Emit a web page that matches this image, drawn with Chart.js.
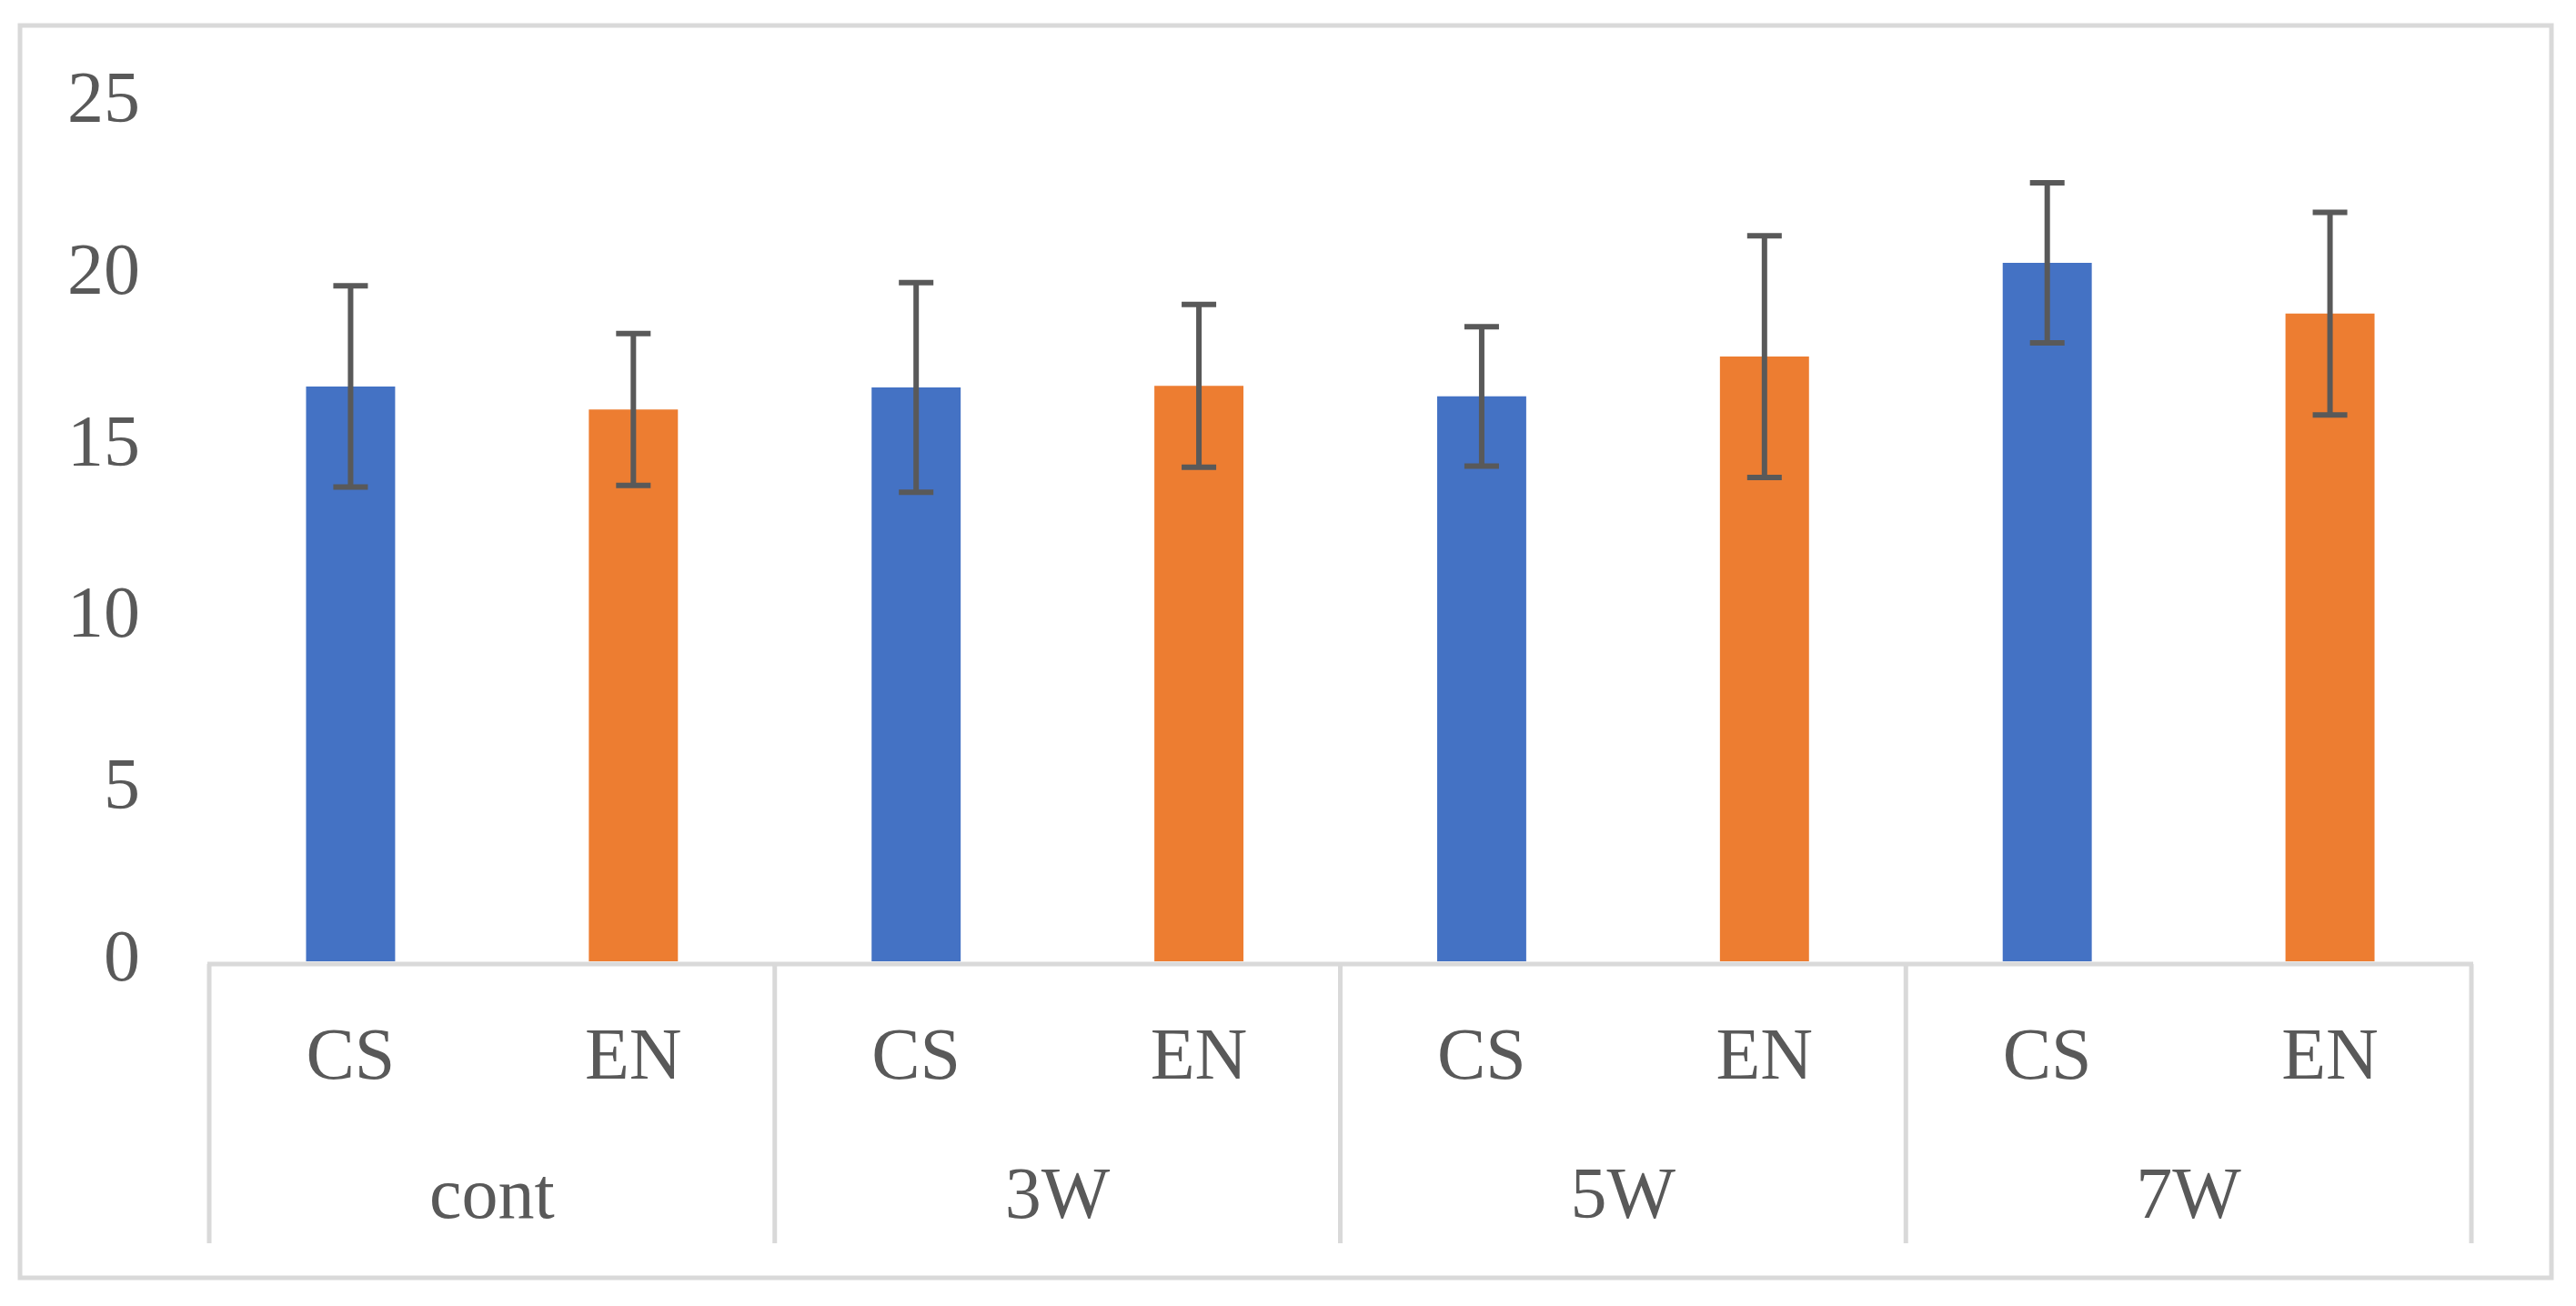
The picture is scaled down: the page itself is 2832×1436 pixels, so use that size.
<!DOCTYPE html>
<html>
<head>
<meta charset="utf-8">
<script src="https://cdn.jsdelivr.net/npm/chart.js@4/dist/chart.umd.min.js"></script>
<style>
  html, body { margin: 0; padding: 0; background: #fff; overflow: hidden; }
  canvas { display: block; }
</style>
</head>
<body>
<canvas id="chart" width="2832" height="1436"></canvas>
<script>
// data
const groups = ['cont', '3W', '5W', '7W'];
const seriesNames = ['CS', 'EN'];
const csMean = [16.74, 16.71, 16.45, 20.34];
const enMean = [16.07, 16.76, 17.61, 18.86];
const csErr = [2.93, 3.05, 2.03, 2.33];
const enErr = [2.21, 2.37, 3.52, 2.95];
const yMin = 0, yMax = 25, yStep = 5;

const textColor = '#595959';
const lineColor = '#d9d9d9';
const fontFamily = "'Liberation Serif', 'DejaVu Serif', serif";
Chart.defaults.color = textColor;
Chart.defaults.font.family = fontFamily;
Chart.defaults.font.size = 80;

// error bars on top of each bar
const errorBars = {
    id: 'errorBars',
    afterDatasetsDraw(chart) {
        const y = chart.scales.y;
        const ctx = chart.ctx;
        ctx.save();
        ctx.strokeStyle = '#595959';
        ctx.lineWidth = 6;
        chart.data.datasets.forEach((ds, di) => {
            const meta = chart.getDatasetMeta(di);
            meta.data.forEach((bar, i) => {
                const hi = y.getPixelForValue(ds.data[i] + ds.err[i]);
                const lo = y.getPixelForValue(ds.data[i] - ds.err[i]);
                ctx.beginPath();
                ctx.moveTo(bar.x, hi); ctx.lineTo(bar.x, lo);
                ctx.moveTo(bar.x - 19, hi); ctx.lineTo(bar.x + 19, hi);
                ctx.moveTo(bar.x - 19, lo); ctx.lineTo(bar.x + 19, lo);
                ctx.stroke();
            });
        });
        ctx.restore();
    }
};

// two-level category box under the plot + outer frame
const groupAxis = {
    id: 'groupAxis',
    afterDraw(chart) {
        const ctx = chart.ctx;
        const x = chart.scales.x;
        const area = chart.chartArea;
        const n = groups.length;
        const w = (x.right - x.left) / n;
        const axisY = area.bottom + 3;
        const boxBottom = 1367;
        ctx.save();
        ctx.strokeStyle = lineColor;
        ctx.lineWidth = 5;
        // outer frame
        ctx.strokeRect(22, 28, 2783, 1377);
        // axis line and group separators
        ctx.beginPath();
        ctx.moveTo(x.left - 2, axisY); ctx.lineTo(x.right + 2, axisY);
        for (let i = 0; i <= n; i++) {
            const px = x.left + i * w;
            ctx.moveTo(px, axisY); ctx.lineTo(px, boxBottom);
        }
        ctx.stroke();

        ctx.fillStyle = textColor;
        ctx.font = '80px ' + fontFamily;
        ctx.textAlign = 'center';
        ctx.textBaseline = 'alphabetic';
        chart.data.datasets.forEach((ds, di) => {
            chart.getDatasetMeta(di).data.forEach(bar => {
                ctx.fillText(ds.label, bar.x, 1186);
            });
        });
        groups.forEach((g, i) => {
            ctx.fillText(g, x.getPixelForValue(i), 1339);
        });
        ctx.restore();
    }
};

new Chart(document.getElementById('chart'), {
    type: 'bar',
    data: {
        labels: groups,
        datasets: [
            { label: seriesNames[0], data: csMean, err: csErr, backgroundColor: '#4472c4' },
            { label: seriesNames[1], data: enMean, err: enErr, backgroundColor: '#ed7d31' }
        ]
    },
    options: {
        responsive: false,
        devicePixelRatio: 1,
        animation: false,
        layout: { padding: { left: 0, right: 115, top: 113, bottom: 379 } },
        datasets: { bar: { categoryPercentage: 1.0, barPercentage: 0.315 } },
        plugins: { legend: { display: false }, tooltip: { enabled: false } },
        scales: {
            x: { display: false },
            y: {
                min: yMin, max: yMax,
                ticks: { stepSize: yStep, padding: 76, color: textColor },
                grid: { display: false, drawTicks: false },
                border: { display: false },
                afterFit(s) {
                    s.width = 230;
                    s.paddingTop = 0;
                    s.paddingBottom = 0;
                }
            }
        }
    },
    plugins: [errorBars, groupAxis]
});
</script>
</body>
</html>
